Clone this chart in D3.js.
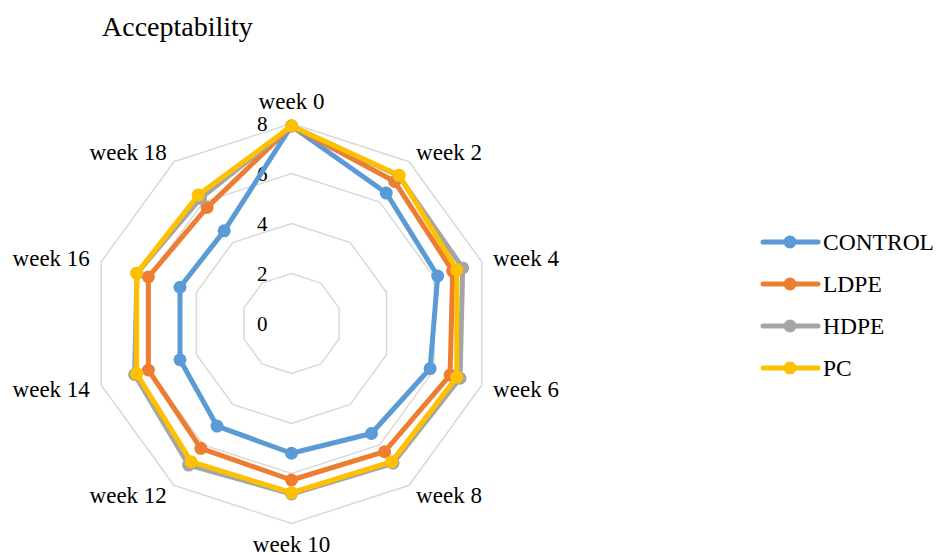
<!DOCTYPE html>
<html>
<head>
<meta charset="utf-8">
<script src="https://cdn.jsdelivr.net/npm/d3@7"></script>
<style>
  html, body { margin: 0; padding: 0; background: #ffffff; }
  svg { display: block; }
  text { font-family: "Liberation Serif", "Times New Roman", serif; fill: #000; }
</style>
</head>
<body>
<svg id="chart" width="937" height="555"></svg>
<script>
// Acceptability scores per storage week
const weeks = ["week 0", "week 2", "week 4", "week 6", "week 8", "week 10", "week 12", "week 14", "week 16", "week 18"];
const seriesNames = ["CONTROL", "LDPE", "HDPE", "PC"];
const control = [7.9, 6.45, 6.15, 5.83, 5.44, 5.19, 5.07, 4.69, 4.69, 4.58];
const ldpe    = [7.9, 7.02, 6.78, 6.67, 6.34, 6.26, 6.17, 6.02, 6.02, 5.74];
const hdpe    = [7.9, 7.3, 7.2, 7.09, 6.91, 6.82, 7.0, 6.6, 6.5, 6.19];
const pc      = [7.9, 7.33, 6.95, 6.95, 6.83, 6.77, 6.83, 6.51, 6.51, 6.35];
const tickValues = [0, 2, 4, 6, 8];
const colors = ["#5b9bd5", "#ed7d31", "#a5a5a5", "#ffc000"];

const seriesValues = [control, ldpe, hdpe, pc];

const svg = d3.select("#chart");
const cx = 291.5, cy = 323.5, R = 200;

// radial value scale and evenly spaced category angles (clockwise from top)
const r = d3.scaleLinear().domain([0, 8]).range([0, R]);
const step = 2 * Math.PI / weeks.length;
const theta = w => weeks.indexOf(w) * step;
const px = (w, v) => cx + r(v) * Math.sin(theta(w));
const py = (w, v) => cy - r(v) * Math.cos(theta(w));

// Title
svg.append("text")
  .attr("x", 102).attr("y", 36)
  .style("font-size", "28px")
  .text("Acceptability");

// Grid rings
const g = svg.append("g");
tickValues.filter(t => t > 0).forEach(t => {
  const pts = weeks.map(w => [px(w, t), py(w, t)]);
  g.append("polygon")
    .attr("points", pts.map(p => p.join(",")).join(" "))
    .attr("fill", "none")
    .attr("stroke", "#d9d9d9")
    .attr("stroke-width", 1.5);
});

// Radial tick labels
g.selectAll("text.tick")
  .data(tickValues)
  .join("text")
  .attr("class", "tick")
  .attr("x", cx - 24)
  .attr("y", d => cy - r(d))
  .attr("text-anchor", "end")
  .attr("dy", "0.35em")
  .style("font-size", "21px")
  .text(d => d);

// Category labels
const labelR = R + 12;
g.selectAll("text.cat")
  .data(weeks)
  .join("text")
  .attr("class", "cat")
  .attr("x", w => cx + labelR * Math.sin(theta(w)))
  .attr("y", w => cy - labelR * Math.cos(theta(w)))
  .attr("text-anchor", w => {
    const s = Math.sin(theta(w));
    return s > 0.1 ? "start" : (s < -0.1 ? "end" : "middle");
  })
  .attr("dy", w => {
    const c = Math.cos(theta(w));
    if (c > 0.95) return "-0.1em";
    if (c < -0.95) return "0.72em";
    return "0.35em";
  })
  .style("font-size", "23px")
  .text(w => w);

// Series lines and markers
const line = d3.line()
  .x(d => px(d.w, d.v))
  .y(d => py(d.w, d.v))
  .curve(d3.curveLinearClosed);

seriesValues.forEach((vals, i) => {
  const pts = weeks.map((w, j) => ({ w, v: vals[j] }));
  const sg = svg.append("g");
  sg.append("path")
    .attr("d", line(pts))
    .attr("fill", "none")
    .attr("stroke", colors[i])
    .attr("stroke-width", 5)
    .attr("stroke-linejoin", "round");
  sg.selectAll("circle")
    .data(pts)
    .join("circle")
    .attr("cx", d => px(d.w, d.v))
    .attr("cy", d => py(d.w, d.v))
    .attr("r", 6.5)
    .attr("fill", colors[i]);
});

// Legend
const legend = svg.append("g");
const ly = d3.scalePoint().domain(seriesNames).range([242, 368]);
seriesNames.forEach((name, i) => {
  const y = ly(name);
  legend.append("line")
    .attr("x1", 763).attr("x2", 818)
    .attr("y1", y).attr("y2", y)
    .attr("stroke", colors[i])
    .attr("stroke-width", 5)
    .attr("stroke-linecap", "round");
  legend.append("circle")
    .attr("cx", 790).attr("cy", y).attr("r", 6.5)
    .attr("fill", colors[i]);
  legend.append("text")
    .attr("x", 823).attr("y", y)
    .attr("dy", "0.35em")
    .style("font-size", "23.5px")
    .text(name);
});
</script>
</body>
</html>
